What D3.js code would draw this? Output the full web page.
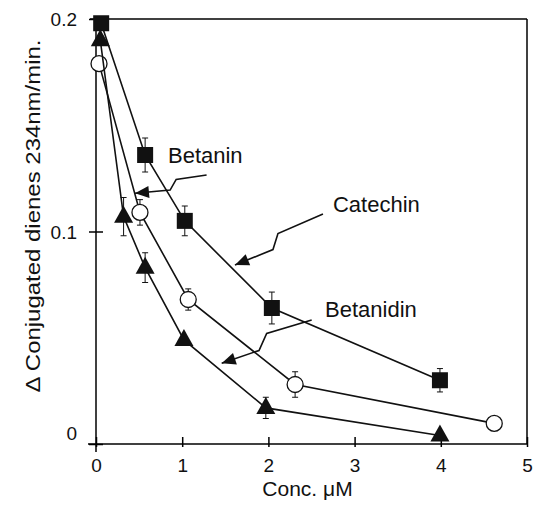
<!DOCTYPE html>
<html>
<head>
<meta charset="utf-8">
<script src="https://cdn.jsdelivr.net/npm/d3@7"></script>
<style>
  body { margin: 0; background: #fff; }
  text { font-family: "Liberation Sans", Arial, sans-serif; fill: #111; }
</style>
</head>
<body>
<div id="root"></div>
<script>
// data
const catechinX = [0.06, 0.57, 1.03, 2.04, 3.99];
const catechinY = [0.198, 0.136, 0.105, 0.064, 0.030];
const catechinErr = [0.002, 0.008, 0.007, 0.0075, 0.0055];

const betaninX = [0.035, 0.51, 1.07, 2.31, 4.62];
const betaninY = [0.179, 0.109, 0.068, 0.028, 0.0097];
const betaninErr = [0.002, 0.006, 0.005, 0.006, 0.003];

const betanidinX = [0.05, 0.32, 0.57, 1.02, 1.97, 3.99];
const betanidinY = [0.190, 0.107, 0.083, 0.049, 0.017, 0.004];
const betanidinErr = [0.002, 0.009, 0.007, 0.002, 0.005, 0.001];

const xTicks = [0, 1, 2, 3, 4, 5];
const yTicks = [0, 0.1, 0.2];

// annotation labels + lightning arrows, in data units
const labels = [
  { text: "Betanin", x: 0.835, y: 0.1322,
    arrow: [[1.283, 0.1266], [0.93, 0.1245], [0.86, 0.1195], [0.452, 0.118]] },
  { text: "Catechin", x: 2.749, y: 0.1092,
    arrow: [[2.633, 0.1082], [2.111, 0.0990], [2.053, 0.0915], [1.612, 0.0842]] },
  { text: "Betanidin", x: 2.657, y: 0.0598,
    arrow: [[2.502, 0.0584], [1.980, 0.0520], [1.891, 0.0440], [1.458, 0.0380]] },
];

const W = 533, H = 505;
const mLeft = 96, mRight = 527, mTop = 19, mBottom = 444;

const x = d3.scaleLinear().domain([0, 5]).range([mLeft, mRight]);
const y = d3.scaleLinear().domain([0, 0.2]).range([mBottom, mTop]);

const svg = d3.select("#root").append("svg")
  .attr("width", W).attr("height", H);

// frame
const frame = svg.append("g").attr("stroke", "#000").attr("stroke-width", 1.5).attr("fill", "none");
frame.append("line").attr("x1", mLeft).attr("x2", mLeft).attr("y1", mTop).attr("y2", mBottom + 8);
frame.append("line").attr("x1", mLeft - 8).attr("x2", mRight).attr("y1", mBottom).attr("y2", mBottom);
frame.append("line").attr("x1", mLeft - 6).attr("x2", mRight).attr("y1", mTop).attr("y2", mTop);
frame.append("line").attr("x1", mRight).attr("x2", mRight).attr("y1", mTop).attr("y2", mBottom);

// axes
const yAxis = d3.axisLeft(y).tickValues(yTicks).tickFormat(d3.format(""));
const gy = svg.append("g").attr("transform", `translate(${mLeft},0)`).call(yAxis);
gy.select(".domain").remove();
gy.selectAll(".tick line").attr("x1", 7).attr("x2", -7).attr("stroke", "#000").attr("stroke-width", 1.5);
gy.selectAll(".tick text")
  .attr("x", -19).attr("dy", (d) => (d === 0 ? "-0.25em" : "0.35em"))
  .style("font-size", "19px");

const xAxis = d3.axisBottom(x).tickValues(xTicks).tickFormat(d3.format("d"));
const gx = svg.append("g").attr("transform", `translate(0,${mBottom})`).call(xAxis);
gx.select(".domain").remove();
gx.selectAll(".tick line").attr("y1", -7).attr("y2", 3).attr("stroke", "#000").attr("stroke-width", 1.5);
gx.selectAll(".tick text").attr("y", 28).attr("dy", 0).style("font-size", "19px");

// axis titles
svg.append("text")
  .attr("x", (mLeft + mRight) / 2 - 4).attr("y", 496)
  .attr("text-anchor", "middle").style("font-size", "21px")
  .text("Conc. \u03BCM");

svg.append("text")
  .attr("transform", "translate(40,216) rotate(-90)")
  .attr("text-anchor", "middle").style("font-size", "21px")
  .attr("textLength", 353).attr("lengthAdjust", "spacingAndGlyphs")
  .text("\u0394 Conjugated dienes 234nm/min.");

// series
const series = [
  { xs: catechinX, ys: catechinY, err: catechinErr, shape: "square" },
  { xs: betaninX, ys: betaninY, err: betaninErr, shape: "circle" },
  { xs: betanidinX, ys: betanidinY, err: betanidinErr, shape: "triangle" },
];

const line = d3.line().x((d) => x(d[0])).y((d) => y(d[1]));

series.forEach((s) => {
  const pts = s.xs.map((v, i) => [v, s.ys[i], s.err[i]]);

  svg.append("path")
    .datum(pts)
    .attr("d", line)
    .attr("fill", "none").attr("stroke", "#111").attr("stroke-width", 1.6);

  const eb = svg.append("g").attr("stroke", "#111").attr("stroke-width", 1);
  pts.forEach((d) => {
    const cx = x(d[0]), y1 = y(d[1] + d[2]), y2 = y(d[1] - d[2]);
    eb.append("line").attr("x1", cx).attr("x2", cx).attr("y1", y1).attr("y2", y2);
    eb.append("line").attr("x1", cx - 3).attr("x2", cx + 3).attr("y1", y1).attr("y2", y1);
    eb.append("line").attr("x1", cx - 3).attr("x2", cx + 3).attr("y1", y2).attr("y2", y2);
  });

  const g = svg.append("g");
  if (s.shape === "square") {
    g.selectAll("rect").data(pts).enter().append("rect")
      .attr("x", (d) => x(d[0]) - 8).attr("y", (d) => y(d[1]) - 8)
      .attr("width", 16).attr("height", 16)
      .attr("fill", "#111");
  } else if (s.shape === "circle") {
    g.selectAll("circle").data(pts).enter().append("circle")
      .attr("cx", (d) => x(d[0])).attr("cy", (d) => y(d[1])).attr("r", 8)
      .attr("fill", "#fff").attr("stroke", "#111").attr("stroke-width", 1.3);
  } else {
    g.selectAll("path").data(pts).enter().append("path")
      .attr("transform", (d) => `translate(${x(d[0])},${y(d[1])})`)
      .attr("d", "M0,-11L9.5,6L-9.5,6Z")
      .attr("fill", "#111");
  }
});

// annotations
labels.forEach((l) => {
  svg.append("text")
    .attr("x", x(l.x)).attr("y", y(l.y))
    .style("font-size", "22px")
    .text(l.text);

  const p = l.arrow.map((d) => [x(d[0]), y(d[1])]);
  svg.append("path")
    .attr("d", d3.line()(p))
    .attr("fill", "none").attr("stroke", "#111").attr("stroke-width", 1.6)
    .attr("stroke-linejoin", "miter");

  // arrowhead at the tip
  const tip = p[p.length - 1], prev = p[p.length - 2];
  const ang = Math.atan2(tip[1] - prev[1], tip[0] - prev[0]) * 180 / Math.PI;
  svg.append("path")
    .attr("transform", `translate(${tip[0]},${tip[1]}) rotate(${ang})`)
    .attr("d", "M0,0L-14,-6L-14,6Z")
    .attr("fill", "#111");
});
</script>
</body>
</html>
